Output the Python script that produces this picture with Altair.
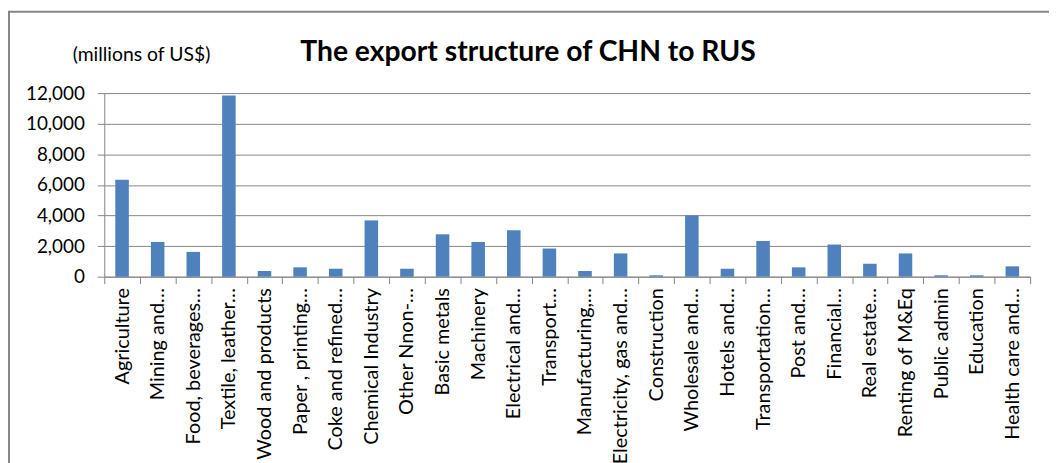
import altair as alt
import pandas as pd

categories = [
    "Agriculture", "Mining and…", "Food, beverages…", "Textile, leather…",
    "Wood and products", "Paper , printing…", "Coke and refined…",
    "Chemical Industry", "Other Nnon-…", "Basic metals", "Machinery",
    "Electrical and…", "Transport…", "Manufacturing,…", "Electricity, gas and…",
    "Construction", "Wholesale and…", "Hotels and…", "Transportation…",
    "Post and…", "Financial…", "Real estate…", "Renting of M&Eq",
    "Public admin", "Education", "Health care and…",
]
values = [
    6340, 2270, 1620, 11850, 370, 610, 520, 3680, 520, 2770, 2270, 3030,
    1840, 370, 1520, 90, 4000, 520, 2335, 610, 2100, 845, 1520, 90, 90, 675,
]
y_ticks = [0, 2000, 4000, 6000, 8000, 10000, 12000]
title_text = "The export structure of CHN to RUS"
unit_text = "(millions of US$)"

df = pd.DataFrame({"sector": categories, "value": values})

FONT = "Lato"
GRAY = "#868686"

bars = alt.Chart(df).mark_bar(
    color="#4F81BD", width=alt.RelativeBandSize(0.38)
).encode(
    x=alt.X(
        "sector:N", sort=None,
        scale=alt.Scale(paddingInner=0, paddingOuter=0),
        axis=alt.Axis(
            title=None, labelAngle=-90, labelAlign="right", labelBaseline="middle",
            labelFont=FONT, labelFontSize=20, labelColor="black",
            tickBand="extent", tickSize=7, tickColor=GRAY,
            domainColor=GRAY, labelPadding=4, labelLimit=400,
        ),
    ),
    y=alt.Y(
        "value:Q",
        scale=alt.Scale(domain=[0, 12000], nice=False),
        axis=alt.Axis(
            values=y_ticks, format=",.0f", title=unit_text,
            titleAngle=0, titleX=37, titleY=-33, titleAlign="center",
            titleBaseline="alphabetic", titleFont=FONT, titleFontSize=19.5,
            titleFontWeight="normal", titleColor="black",
            labelFont=FONT, labelFontSize=19, labelColor="black",
            labelPadding=13, tickSize=7, tickColor=GRAY,
            domainColor=GRAY, gridColor=GRAY, grid=True,
        ),
    ),
)

border = alt.Chart(pd.DataFrame({"k": [0]})).mark_rect(
    fillOpacity=0, stroke=GRAY, strokeWidth=2
).encode(
    x=alt.value(-96), x2=alt.value(980), y=alt.value(-82), y2=alt.value(420)
)

title = alt.Chart(pd.DataFrame({"t": [title_text]})).mark_text(
    font=FONT, fontSize=28.5, fontWeight="bold", color="black",
    align="center", baseline="alphabetic",
).encode(text="t:N", x=alt.value(427), y=alt.value(-32))

chart = alt.layer(border, bars, title).properties(
    width=933, height=185,
    padding={"left": 97, "top": 84, "right": 19, "bottom": 186},
    autosize="none",
).configure_view(stroke=None)

chart.save("out.html", embed_options={"renderer": "svg", "actions": False})
